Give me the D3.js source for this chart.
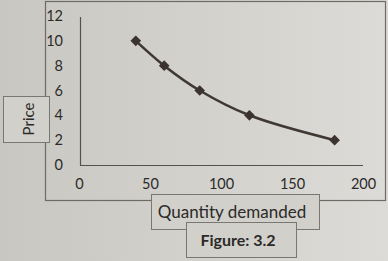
<!DOCTYPE html>
<html>
<head>
<meta charset="utf-8">
<script src="https://cdn.jsdelivr.net/npm/d3@7"></script>
<style>
  body { margin: 0; background: #d3d1cc; }
  svg text { font-family: Lato, "Open Sans", sans-serif; fill: #2b2a28; }
</style>
</head>
<body>
<div class="graphics"></div>
<script>
// values
var quantity = [40, 60, 85, 120, 180];
var price = [10, 8, 6, 4, 2];
var xTicks = [0, 50, 100, 150, 200];
var yTicks = [0, 2, 4, 6, 8, 10, 12];

var w = 388, h = 261;

var svg = d3.select('.graphics')
    .append('svg')
    .attr('width', w)
    .attr('height', h);

// paper background, a bit darker on the left like the photo
var grad = svg.append('defs').append('linearGradient')
    .attr('id', 'paper')
    .attr('x1', '0').attr('x2', '1').attr('y1', '0').attr('y2', '0');
grad.append('stop').attr('offset', '0').attr('stop-color', '#c9c7c2');
grad.append('stop').attr('offset', '1').attr('stop-color', '#dddbd7');

svg.append('rect')
    .attr('width', w).attr('height', h)
    .attr('fill', 'url(#paper)');

// chart border
svg.append('rect')
    .attr('x', 45.5).attr('y', 1.5)
    .attr('width', 340).attr('height', 199)
    .attr('fill', 'none')
    .attr('stroke', '#6e6b66')
    .attr('stroke-width', 1.2);

var x = d3.scaleLinear().domain([0, 200]).range([79, 363]);
var y = d3.scaleLinear().domain([0, 12]).range([165, 16]);

var yAxis = svg.append('g')
    .attr('transform', 'translate(80,0)')
    .call(d3.axisLeft(y).tickValues(yTicks).tickSize(0).tickPadding(17));
yAxis.select('.domain').remove();
yAxis.selectAll('text').style('font-size', '14.5px');

var xAxis = svg.append('g')
    .attr('transform', 'translate(0,165)')
    .call(d3.axisBottom(x).tickValues(xTicks).tickSize(0).tickPadding(14));
xAxis.select('.domain').remove();
xAxis.selectAll('text').style('font-size', '14.5px');

// axis lines
svg.append('line')
    .attr('x1', 80.5).attr('x2', 80.5)
    .attr('y1', 17).attr('y2', 165.5)
    .attr('stroke', '#55524d').attr('stroke-width', 1.2);
svg.append('line')
    .attr('x1', 80).attr('x2', 363)
    .attr('y1', 165.5).attr('y2', 165.5)
    .attr('stroke', '#55524d').attr('stroke-width', 1.2);

var points = quantity.map(function(d, i){
    return [d, price[i]];
});

var line = d3.line()
    .x(function(d){ return x(d[0]); })
    .y(function(d){ return y(d[1]); })
    .curve(d3.curveCatmullRom);

svg.append('path')
    .datum(points)
    .attr('d', line)
    .attr('fill', 'none')
    .attr('stroke', '#3f3833')
    .attr('stroke-width', 2.6);

svg.selectAll('.mark')
    .data(points)
    .enter()
    .append('path')
    .attr('class', 'mark')
    .attr('d', d3.symbol().type(d3.symbolDiamond2).size(72))
    .attr('transform', function(d){
        return 'translate(' + x(d[0]) + ',' + y(d[1]) + ')';
    })
    .attr('fill', '#3a332f');

// label boxes
function box(x0, y0, bw, bh){
    svg.append('rect')
        .attr('x', x0).attr('y', y0)
        .attr('width', bw).attr('height', bh)
        .attr('fill', '#d2d0cb')
        .attr('stroke', '#7a7772')
        .attr('stroke-width', 1);
}

box(3.5, 96.5, 46, 46);
svg.append('text')
    .attr('transform', 'translate(29,119) rotate(-90)')
    .attr('text-anchor', 'middle')
    .attr('dy', '0.35em')
    .style('font-size', '15px')
    .text('Price');

box(151.5, 194.5, 168, 35);
svg.append('text')
    .attr('x', 232).attr('y', 212)
    .attr('text-anchor', 'middle')
    .attr('dy', '0.35em')
    .style('font-size', '17px')
    .text('Quantity demanded');

box(186.5, 222.5, 110, 35);
svg.append('text')
    .attr('x', 238).attr('y', 240)
    .attr('text-anchor', 'middle')
    .attr('dy', '0.35em')
    .style('font-size', '16px')
    .style('font-weight', 'bold')
    .text('Figure: 3.2');
</script>
</body>
</html>
